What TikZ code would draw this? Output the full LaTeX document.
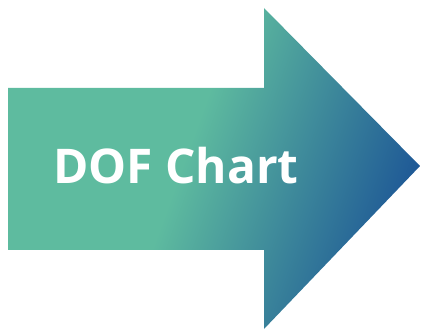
\documentclass[tikz,border=0pt]{standalone}
\usepackage{fontspec}
\setsansfont{Open Sans}
\usetikzlibrary{positioning}

\definecolor{dofgreen}{RGB}{94,187,159}
\definecolor{dofblue}{RGB}{30,88,150}

% green body, turning blue towards the tip
\pgfdeclarehorizontalshading{dofshade}{100bp}{%
  color(0bp)=(dofgreen); color(25bp)=(dofgreen);
  color(46bp)=(dofgreen); color(75bp)=(dofblue);
  color(100bp)=(dofblue)}

\begin{document}
\begin{tikzpicture}[x=1bp,y=1bp,font=\sffamily\bfseries]

\useasboundingbox (0,0) rectangle (421,331);

% Arrow
\path[shading=dofshade,
    shading angle=-20]
    (8,81) -- (8,243) -- (264,243) -- (264,323)
    -- (420,165) -- (264,2) -- (264,81) -- cycle;

% Label
\node[text=white,
    anchor=base,
    font=\fontsize{48}{58}\selectfont\sffamily\bfseries,
    inner sep=0] (label) at (176,148) {DOF Chart};

\end{tikzpicture}
\end{document}
